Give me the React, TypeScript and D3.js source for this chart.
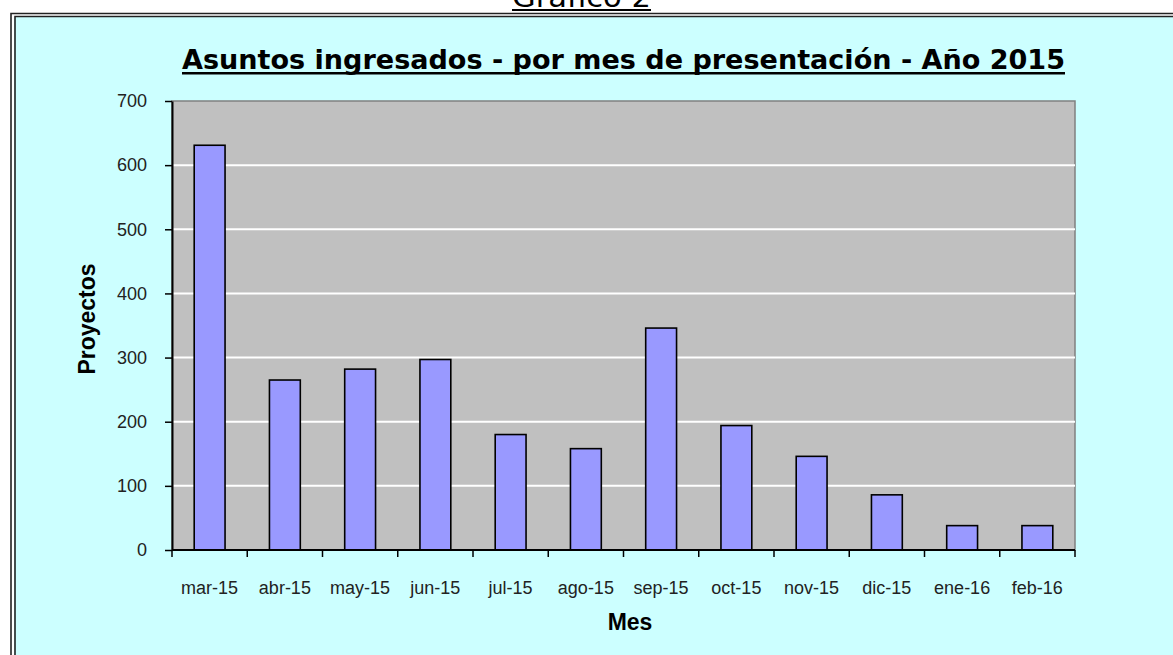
import React, { useRef, useEffect } from "react";
import * as d3 from "d3";

// Asuntos ingresados por mes (Gráfico 2)
const months = [
  "mar-15", "abr-15", "may-15", "jun-15", "jul-15", "ago-15",
  "sep-15", "oct-15", "nov-15", "dic-15", "ene-16", "feb-16",
];
const proyectos = [631, 265, 282, 297, 180, 158, 346, 194, 146, 86, 38, 38];
const yTicks = [0, 100, 200, 300, 400, 500, 600, 700];

const WIDTH = 1173;
const HEIGHT = 655;
const margin = { top: 101, right: 98, bottom: 105, left: 172 };

const App = () => {
  const svgRef = useRef<SVGSVGElement>(null);

  useEffect(() => {
    const root = d3.select(svgRef.current);
    root.selectAll("*").remove();

    const chartWidth = WIDTH - margin.left - margin.right;
    const chartHeight = HEIGHT - margin.top - margin.bottom;

    // background + double frame
    root.append("rect").attr("width", WIDTH).attr("height", HEIGHT).attr("fill", "#ffffff");
    root
      .append("rect")
      .attr("x", 14)
      .attr("y", 17)
      .attr("width", WIDTH)
      .attr("height", HEIGHT)
      .attr("fill", "#ccffff");
    [11, 15].forEach((o, i) => {
      const y0 = i === 0 ? 13.5 : 16.5;
      root
        .append("path")
        .attr("d", `M${o},${HEIGHT + 5}V${y0}H${WIDTH + 5}`)
        .attr("fill", "none")
        .attr("stroke", "#222")
        .attr("stroke-width", 1.6);
    });

    // page heading (cut off at top)
    root
      .append("text")
      .attr("x", 512)
      .attr("y", 7)
      .attr("textLength", 139)
      .attr("lengthAdjust", "spacingAndGlyphs")
      .style("font-family", "'DejaVu Sans', Verdana, sans-serif")
      .style("font-size", "28px")
      .attr("fill", "#000")
      .text("Gráfico 2");
    root.append("rect").attr("x", 512).attr("y", 9).attr("width", 139).attr("height", 2).attr("fill", "#000");

    // chart title
    root
      .append("text")
      .attr("x", 182)
      .attr("y", 69)
      .attr("textLength", 883)
      .attr("lengthAdjust", "spacingAndGlyphs")
      .style("font-family", "'DejaVu Sans', Tahoma, sans-serif")
      .style("font-weight", "bold")
      .style("font-size", "27px")
      .attr("fill", "#000")
      .text("Asuntos ingresados - por mes de presentación - Año 2015");
    root.append("rect").attr("x", 182).attr("y", 72).attr("width", 883).attr("height", 2.5).attr("fill", "#000");

    const svg = root.append("g").attr("transform", `translate(${margin.left},${margin.top})`);

    // scales
    const x = d3
      .scaleBand()
      .domain(months)
      .range([0, chartWidth])
      .paddingInner(0.59)
      .paddingOuter(0.295);
    const y = d3.scaleLinear().domain([0, 700]).range([chartHeight, 0]);
    const step = chartWidth / months.length;

    // plot area
    svg
      .append("rect")
      .attr("width", chartWidth)
      .attr("height", chartHeight)
      .attr("fill", "#c0c0c0")
      .attr("stroke", "#808080")
      .attr("stroke-width", 1.5);

    // gridlines
    svg
      .selectAll(".grid")
      .data(yTicks.filter((d) => d > 0 && d < 700))
      .enter()
      .append("line")
      .attr("x1", 0)
      .attr("x2", chartWidth)
      .attr("y1", (d) => y(d))
      .attr("y2", (d) => y(d))
      .attr("stroke", "#ffffff")
      .attr("stroke-width", 2);

    // bars
    svg
      .selectAll(".bar")
      .data(proyectos)
      .enter()
      .append("rect")
      .attr("class", "bar")
      .attr("x", (d, i) => x(months[i]) as number)
      .attr("width", x.bandwidth())
      .attr("y", (d) => y(d))
      .attr("height", (d) => chartHeight - y(d))
      .attr("fill", "#9999ff")
      .attr("stroke", "#000")
      .attr("stroke-width", 1.6);

    // y axis
    const yAxis = svg
      .append("g")
      .call(d3.axisLeft(y).tickValues(yTicks).tickSize(7).tickSizeOuter(0).tickPadding(18));
    yAxis.select(".domain").attr("stroke", "#000").attr("stroke-width", 2);
    yAxis.selectAll(".tick line").attr("stroke", "#000").attr("stroke-width", 1.5);
    yAxis
      .selectAll("text")
      .style("font-family", "'Liberation Sans', Arial, sans-serif")
      .style("font-size", "18px")
      .attr("fill", "#222");

    // x axis: ticks sit between categories
    const xg = svg.append("g").attr("transform", `translate(0,${chartHeight})`);
    xg.append("line").attr("x1", 0).attr("x2", chartWidth).attr("stroke", "#000").attr("stroke-width", 2);
    xg
      .selectAll(".xtick")
      .data(d3.range(months.length + 1))
      .enter()
      .append("line")
      .attr("x1", (i) => i * step)
      .attr("x2", (i) => i * step)
      .attr("y1", 0)
      .attr("y2", 7)
      .attr("stroke", "#000")
      .attr("stroke-width", 1.5);
    xg
      .selectAll(".xlabel")
      .data(months)
      .enter()
      .append("text")
      .attr("x", (d) => (x(d) as number) + x.bandwidth() / 2)
      .attr("y", 44)
      .attr("text-anchor", "middle")
      .style("font-family", "'Liberation Sans', Arial, sans-serif")
      .style("font-size", "18px")
      .attr("fill", "#222")
      .text((d) => d);

    // axis titles
    root
      .append("text")
      .attr("x", 630)
      .attr("y", 630)
      .attr("text-anchor", "middle")
      .style("font-family", "'Liberation Sans', Arial, sans-serif")
      .style("font-weight", "bold")
      .style("font-size", "23px")
      .attr("fill", "#000")
      .text("Mes");
    root
      .append("text")
      .attr("transform", "translate(95,319) rotate(-90)")
      .attr("text-anchor", "middle")
      .style("font-family", "'Liberation Sans', Arial, sans-serif")
      .style("font-weight", "bold")
      .style("font-size", "23px")
      .attr("fill", "#000")
      .text("Proyectos");
  }, []);

  return (
    <svg
      ref={svgRef}
      width={WIDTH}
      height={HEIGHT}
      style={{ position: "absolute", left: 0, top: 0, display: "block" }}
    ></svg>
  );
};

export default App;
